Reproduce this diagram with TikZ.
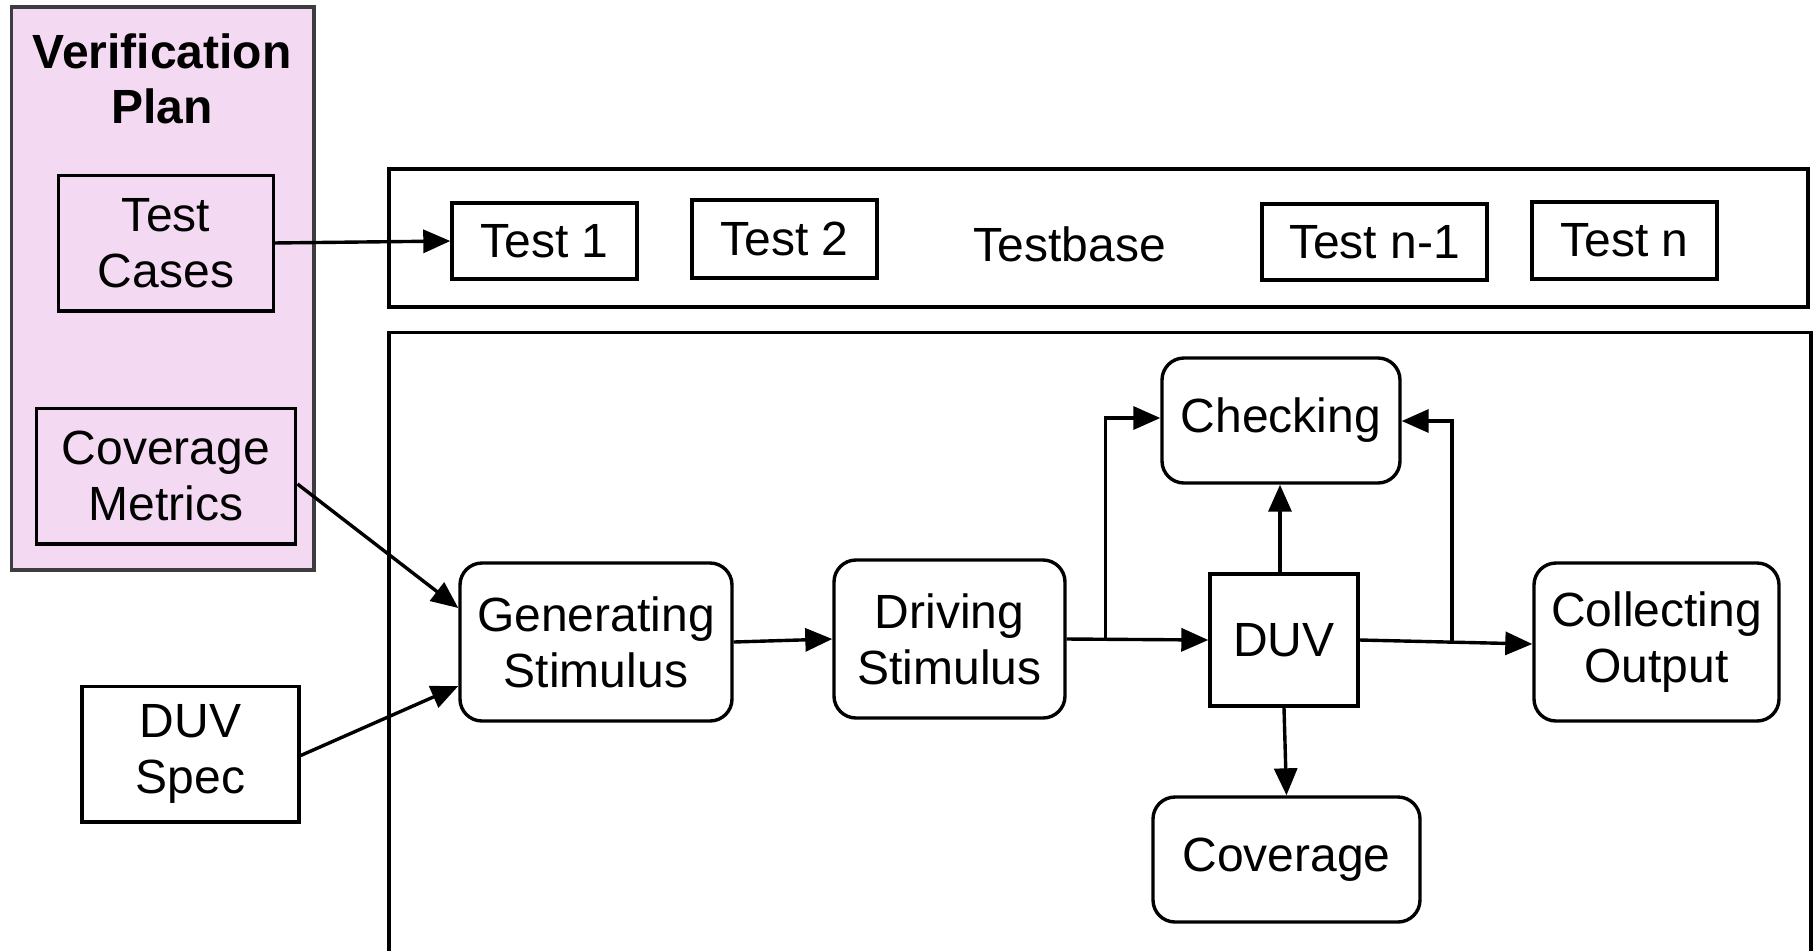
\documentclass[tikz,border=0pt]{standalone}
\usepackage{fontspec}
\setmainfont{Liberation Sans}
\usetikzlibrary{arrows.meta}
\definecolor{planfill}{HTML}{F3D9F1}
\definecolor{planline}{HTML}{3D3D3D}
\begin{document}
\begin{tikzpicture}[x=0.5pt,y=-0.5pt,
  every node/.style={font=\fontsize{24}{28}\selectfont, align=center, inner sep=0pt},
  sqbox/.style={draw, line width=1.7pt},
  rbox/.style={draw, line width=1.7pt, rounded corners=11pt},
  flow/.style={line width=1.7pt, -{Triangle[length=13.5pt,width=11.5pt]}},
  link/.style={line width=1.7pt}]
\useasboundingbox (0,0) rectangle (1817,950);

% verification plan panel
\draw[fill=planfill, draw=planline, line width=1.8pt] (11.6,7) rectangle (314,570);
\node[font=\fontsize{24}{27.5}\selectfont\bfseries] (title) at (162,79) {Verification\\Plan};
\node[sqbox, minimum width=107.75pt, minimum height=67.8pt] (cases) at (166,243) {Test\\Cases};
\node[sqbox, minimum width=129.75pt, minimum height=67.8pt] (metrics) at (166,476) {Coverage\\Metrics};

% design specification
\node[sqbox, minimum width=108.5pt, minimum height=67.8pt] (spec) at (190.5,754) {DUV\\Spec};

% testbase strip
\node[sqbox, minimum width=709.5pt, minimum height=69pt] (testbase) at (1098.5,238) {};
\node (tbtext) at (1069.6,244) {Testbase};
\node[sqbox, minimum width=92.5pt, minimum height=38pt] (t1) at (544.5,241) {Test 1};
\node[sqbox, minimum width=92.5pt, minimum height=39pt] (t2) at (784.5,239) {Test 2};
\node[sqbox, minimum width=112.5pt, minimum height=38pt] (tn1) at (1374.5,242) {Test n-1};
\node[sqbox, minimum width=92.5pt, minimum height=38.5pt] (tn) at (1624.5,240.5) {Test n};

% testbench frame, running off the bottom edge
\begin{scope}
\clip (0,0) rectangle (1817,950);
\draw[link] (389,1000) -- (389,332.6) -- (1811,332.6) -- (1811,1000);
\end{scope}

% testbench blocks
\node[rbox, minimum width=136pt, minimum height=79pt] (gen) at (596,642) {Generating\\Stimulus};
\node[rbox, minimum width=115.5pt, minimum height=79pt] (drive) at (949.5,639) {Driving\\Stimulus};
\node[sqbox, minimum width=74pt, minimum height=66pt] (duv) at (1284,640) {DUV};
\node[rbox, minimum width=119pt, minimum height=62.5pt] (check) at (1281,420.5) {Checking};
\node[rbox, minimum width=122.5pt, minimum height=79pt] (collect) at (1656.5,642) {Collecting\\Output};
\node[rbox, minimum width=133.5pt, minimum height=62.5pt] (cov) at (1286.5,859.5) {Coverage};

% junction points
\coordinate (jl) at (1105.5,639);
\coordinate (jlt) at (1105.5,418);
\coordinate (jr) at (1452,642);
\coordinate (jrt) at (1452,421);

% connectors
\draw[flow] ([xshift=-1.5pt]cases.east) -- (t1.west);
\draw[flow] ([yshift=-4pt]metrics.east) -- ([yshift=17pt]gen.west);
\draw[flow] ([yshift=-0.75pt]spec.east) -- ([yshift=-22pt]gen.west);
\draw[flow] (gen.east) -- (drive.west);
\draw[flow] (drive.east) -- (duv.west);
\draw[flow] (jl) -- (jlt) -- (check.west |- jlt);
\draw[flow] ([xshift=-2pt]duv.north) -- ([xshift=-0.5pt]check.south);
\draw[flow] (duv.east) -- ([yshift=-1pt]collect.west);
\draw[flow] (jr) -- (jrt) -- (check.east |- jrt);
\draw[flow] (duv.south) -- (cov.north);
\end{tikzpicture}
\end{document}
